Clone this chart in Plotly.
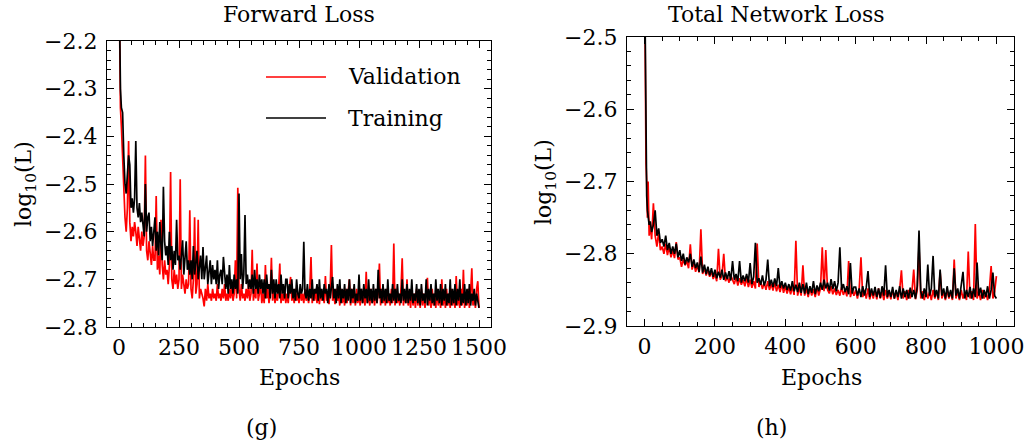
import plotly.graph_objects as go

# ---------------- data: Forward Loss (g) ----------------
epochs_g = [0, 3, 6, 10, 15, 20, 25, 30, 35, 40, 45, 50, 55, 60, 65, 70, 75, 80, 85, 90, 95] + list(range(100, 1501, 5))

val_g = [
    -2.05, -2.22, -2.34, -2.38, -2.46, -2.52, -2.57, -2.60, -2.55, -2.41, -2.58,
    -2.62, -2.59, -2.61, -2.58, -2.60, -2.63, -2.59, -2.62, -2.64, -2.60,
    -2.63, -2.61, -2.44, -2.64, -2.66, -2.62, -2.65, -2.67, -2.63, -2.66,      # 100-145
    -2.66, -2.525, -2.68, -2.65, -2.69, -2.575, -2.67, -2.70, -2.66, -2.69,    # 150-195
    -2.68, -2.71, -2.67, -2.475, -2.70, -2.72, -2.68, -2.71, -2.69, -2.72,     # 200-245
    -2.70, -2.49, -2.72, -2.69, -2.71, -2.73, -2.70, -2.72, -2.71, -2.555,     # 250-295
    -2.72, -2.74, -2.70, -2.57, -2.73, -2.71, -2.575, -2.74, -2.72, -2.73,     # 300-345
    -2.74, -2.757, -2.72, -2.745, -2.71, -2.74, -2.73, -2.745, -2.72, -2.74,   # 350-395
    -2.73, -2.745, -2.71, -2.74, -2.73, -2.745, -2.72, -2.74, -2.71, -2.745,   # 400-445
    -2.73, -2.745, -2.72, -2.74, -2.71, -2.745, -2.73, -2.66, -2.74, -2.508,   # 450-495
    -2.72, -2.745, -2.71, -2.74, -2.73, -2.745, -2.72, -2.74, -2.71, -2.745,   # 500-545
    -2.73, -2.638, -2.745, -2.72, -2.74, -2.667, -2.745, -2.73, -2.71, -2.75,  # 550-595
    -2.73, -2.75, -2.67, -2.74, -2.72, -2.75, -2.73, -2.655, -2.745, -2.72,    # 600-645
    -2.75, -2.73, -2.745, -2.72, -2.667, -2.75, -2.73, -2.745, -2.72, -2.75,   # 650-695
    -2.73, -2.75, -2.72, -2.695, -2.745, -2.73, -2.75, -2.72, -2.745, -2.73,   # 700-745
    -2.75, -2.72, -2.745, -2.73, -2.75, -2.72, -2.745, -2.73, -2.75, -2.72,    # 750-795
    -2.653, -2.75, -2.73, -2.745, -2.72, -2.75, -2.73, -2.752, -2.72, -2.745,  # 800-845
    -2.73, -2.75, -2.693, -2.745, -2.73, -2.752, -2.72, -2.628, -2.745, -2.73, # 850-895
    -2.752, -2.72, -2.745, -2.73, -2.755, -2.72, -2.75, -2.73, -2.755, -2.72,  # 900-945
    -2.75, -2.73, -2.70, -2.755, -2.72, -2.75, -2.73, -2.755, -2.72, -2.75,    # 950-995
    -2.73, -2.755, -2.72, -2.75, -2.73, -2.755, -2.684, -2.75, -2.73, -2.755,  # 1000-1045
    -2.72, -2.75, -2.73, -2.755, -2.72, -2.75, -2.73, -2.667, -2.755, -2.72,   # 1050-1095
    -2.75, -2.73, -2.755, -2.72, -2.75, -2.73, -2.755, -2.72, -2.75, -2.625,   # 1100-1145
    -2.755, -2.72, -2.75, -2.73, -2.755, -2.72, -2.656, -2.755, -2.73, -2.75,  # 1150-1195
    -2.70, -2.755, -2.73, -2.76, -2.72, -2.755, -2.73, -2.76, -2.72, -2.755,   # 1200-1245
    -2.73, -2.76, -2.72, -2.755, -2.73, -2.76, -2.72, -2.697, -2.755, -2.73,   # 1250-1295
    -2.76, -2.72, -2.755, -2.73, -2.76, -2.72, -2.755, -2.73, -2.76, -2.70,    # 1300-1345
    -2.755, -2.73, -2.76, -2.72, -2.755, -2.73, -2.76, -2.72, -2.755, -2.73,   # 1350-1395
    -2.76, -2.693, -2.755, -2.73, -2.76, -2.72, -2.755, -2.68, -2.76, -2.73,   # 1400-1445
    -2.755, -2.72, -2.76, -2.73, -2.677, -2.755, -2.73, -2.76, -2.72, -2.704,  # 1450-1495
    -2.76,                                                                     # 1500
]

train_g = [
    -2.05, -2.20, -2.30, -2.34, -2.35, -2.44, -2.50, -2.52, -2.47, -2.44, -2.46,
    -2.55, -2.53, -2.56, -2.53, -2.41, -2.55, -2.57, -2.54, -2.58, -2.56,
    -2.58, -2.61, -2.50, -2.60, -2.57, -2.56, -2.62, -2.59, -2.63, -2.60,      # 100-145
    -2.57, -2.64, -2.60, -2.65, -2.58, -2.63, -2.66, -2.506, -2.62, -2.65,     # 150-195
    -2.63, -2.67, -2.60, -2.66, -2.63, -2.68, -2.64, -2.67, -2.575, -2.66,     # 200-245
    -2.65, -2.68, -2.64, -2.618, -2.69, -2.65, -2.62, -2.68, -2.66, -2.69,     # 250-295
    -2.66, -2.70, -2.63, -2.69, -2.66, -2.64, -2.70, -2.67, -2.65, -2.70,      # 300-345
    -2.632, -2.70, -2.67, -2.65, -2.71, -2.68, -2.66, -2.71, -2.67, -2.70,     # 350-395
    -2.68, -2.71, -2.66, -2.72, -2.69, -2.68, -2.71, -2.653, -2.70, -2.72,     # 400-445
    -2.69, -2.73, -2.67, -2.72, -2.70, -2.73, -2.69, -2.72, -2.70, -2.73,      # 450-495
    -2.52, -2.70, -2.647, -2.72, -2.69, -2.565, -2.71, -2.69, -2.72, -2.70,    # 500-545
    -2.72, -2.69, -2.73, -2.68, -2.72, -2.70, -2.73, -2.69, -2.72, -2.70,      # 550-595
    -2.73, -2.70, -2.74, -2.69, -2.72, -2.71, -2.74, -2.68, -2.73, -2.70,      # 600-645
    -2.74, -2.70, -2.73, -2.71, -2.74, -2.69, -2.73, -2.71, -2.74, -2.70,      # 650-695
    -2.70, -2.74, -2.71, -2.73, -2.70, -2.74, -2.72, -2.745, -2.70, -2.73,     # 700-745
    -2.74, -2.71, -2.73, -2.72, -2.621, -2.73, -2.74, -2.71, -2.745, -2.72,    # 750-795
    -2.74, -2.70, -2.745, -2.72, -2.73, -2.71, -2.745, -2.70, -2.74, -2.72,    # 800-845
    -2.745, -2.71, -2.73, -2.72, -2.75, -2.71, -2.74, -2.72, -2.695, -2.74,    # 850-895
    -2.72, -2.75, -2.71, -2.74, -2.70, -2.75, -2.72, -2.74, -2.71, -2.75,      # 900-945
    -2.72, -2.745, -2.70, -2.75, -2.72, -2.74, -2.71, -2.75, -2.73, -2.745,    # 950-995
    -2.69, -2.745, -2.72, -2.75, -2.71, -2.74, -2.72, -2.75, -2.70, -2.745,    # 1000-1045
    -2.72, -2.75, -2.71, -2.745, -2.72, -2.75, -2.68, -2.74, -2.72, -2.75,     # 1050-1095
    -2.71, -2.745, -2.72, -2.75, -2.70, -2.745, -2.73, -2.75, -2.71, -2.745,   # 1100-1145
    -2.72, -2.75, -2.71, -2.745, -2.73, -2.75, -2.70, -2.745, -2.72, -2.75,    # 1150-1195
    -2.71, -2.75, -2.72, -2.745, -2.70, -2.75, -2.73, -2.745, -2.71, -2.75,    # 1200-1245
    -2.72, -2.755, -2.71, -2.745, -2.73, -2.75, -2.70, -2.755, -2.72, -2.745,  # 1250-1295
    -2.71, -2.75, -2.73, -2.755, -2.70, -2.745, -2.72, -2.75, -2.71, -2.755,   # 1300-1345
    -2.72, -2.745, -2.71, -2.755, -2.73, -2.75, -2.70, -2.755, -2.72, -2.75,   # 1350-1395
    -2.71, -2.755, -2.72, -2.745, -2.70, -2.755, -2.73, -2.75, -2.71, -2.755,  # 1400-1445
    -2.72, -2.75, -2.71, -2.755, -2.73, -2.745, -2.72, -2.755, -2.73, -2.745,  # 1450-1495
    -2.76,                                                                     # 1500
]

# ---------------- data: Total Network Loss (h) ----------------
epochs_h = [0, 2, 4, 6, 8, 10, 13, 16, 20, 25, 30, 35, 40, 45] + list(range(50, 1001, 5))

val_h = [
    -2.40, -2.56, -2.675, -2.70, -2.75, -2.70, -2.775, -2.76, -2.78, -2.73, -2.775, -2.79, -2.77, -2.795,
    -2.79, -2.80, -2.786, -2.802, -2.79, -2.805, -2.795, -2.806, -2.784, -2.808,       # 50-95
    -2.805, -2.818, -2.808, -2.816, -2.81, -2.82, -2.787, -2.822, -2.812, -2.825,     # 100-145
    -2.816, -2.826, -2.766, -2.828, -2.82, -2.83, -2.822, -2.832, -2.824, -2.835,     # 150-195
    -2.828, -2.838, -2.793, -2.836, -2.83, -2.80, -2.838, -2.832, -2.84, -2.83,       # 200-245
    -2.835, -2.842, -2.832, -2.844, -2.834, -2.843, -2.836, -2.845, -2.833, -2.846,   # 250-295
    -2.836, -2.847, -2.838, -2.848, -2.786, -2.846, -2.838, -2.849, -2.84, -2.85,     # 300-345
    -2.838, -2.85, -2.842, -2.851, -2.84, -2.852, -2.843, -2.853, -2.842, -2.854,     # 350-395
    -2.845, -2.855, -2.846, -2.856, -2.845, -2.857, -2.782, -2.858, -2.846, -2.858,   # 400-445
    -2.816, -2.858, -2.848, -2.86, -2.847, -2.858, -2.849, -2.86, -2.846, -2.858,     # 450-495
    -2.848, -2.791, -2.852, -2.795, -2.85, -2.855, -2.845, -2.856, -2.848, -2.857,    # 500-545
    -2.85, -2.858, -2.846, -2.857, -2.85, -2.859, -2.81, -2.86, -2.85, -2.858,        # 550-595
    -2.85, -2.862, -2.848, -2.805, -2.86, -2.85, -2.862, -2.848, -2.863, -2.852,      # 600-645
    -2.862, -2.85, -2.863, -2.848, -2.862, -2.852, -2.864, -2.85, -2.862, -2.852,     # 650-695
    -2.863, -2.85, -2.862, -2.852, -2.864, -2.85, -2.823, -2.862, -2.852, -2.864,     # 700-745
    -2.85, -2.862, -2.852, -2.822, -2.863, -2.85, -2.79, -2.862, -2.852, -2.864,      # 750-795
    -2.85, -2.862, -2.853, -2.864, -2.85, -2.862, -2.852, -2.864, -2.825, -2.862,     # 800-845
    -2.852, -2.864, -2.85, -2.862, -2.853, -2.864, -2.808, -2.862, -2.852, -2.864,    # 850-895
    -2.85, -2.862, -2.853, -2.864, -2.797, -2.862, -2.852, -2.864, -2.759, -2.862,    # 900-945
    -2.852, -2.864, -2.85, -2.862, -2.853, -2.864, -2.85, -2.817, -2.862, -2.852,     # 950-995
    -2.831,                                                                           # 1000
]

train_h = [
    -2.40, -2.55, -2.67, -2.72, -2.74, -2.75, -2.76, -2.755, -2.77, -2.76, -2.74, -2.775, -2.765, -2.785,
    -2.78, -2.79, -2.775, -2.795, -2.785, -2.80, -2.79, -2.80, -2.786, -2.805,        # 50-95
    -2.795, -2.81, -2.80, -2.815, -2.805, -2.812, -2.80, -2.818, -2.808, -2.82,       # 100-145
    -2.812, -2.825, -2.804, -2.826, -2.815, -2.828, -2.818, -2.83, -2.82, -2.832,     # 150-195
    -2.822, -2.834, -2.825, -2.833, -2.822, -2.836, -2.826, -2.835, -2.824, -2.837,   # 200-245
    -2.81, -2.836, -2.828, -2.838, -2.81, -2.84, -2.83, -2.838, -2.828, -2.84,        # 250-295
    -2.813, -2.842, -2.832, -2.785, -2.84, -2.834, -2.843, -2.83, -2.844, -2.836,     # 300-345
    -2.808, -2.845, -2.836, -2.846, -2.834, -2.845, -2.82, -2.847, -2.838, -2.848,    # 350-395
    -2.84, -2.85, -2.842, -2.851, -2.838, -2.852, -2.843, -2.853, -2.84, -2.854,      # 400-445
    -2.842, -2.855, -2.84, -2.856, -2.845, -2.854, -2.838, -2.856, -2.844, -2.852,    # 450-495
    -2.84, -2.85, -2.836, -2.848, -2.84, -2.851, -2.835, -2.849, -2.838, -2.852,      # 500-545
    -2.84, -2.791, -2.85, -2.842, -2.853, -2.845, -2.856, -2.813, -2.855, -2.846,     # 550-595
    -2.846, -2.858, -2.848, -2.86, -2.845, -2.858, -2.847, -2.824, -2.86, -2.848,     # 600-645
    -2.858, -2.846, -2.86, -2.848, -2.861, -2.845, -2.858, -2.816, -2.86, -2.85,      # 650-695
    -2.86, -2.846, -2.862, -2.85, -2.86, -2.845, -2.862, -2.848, -2.86, -2.85,        # 700-745
    -2.862, -2.847, -2.86, -2.85, -2.862, -2.845, -2.768, -2.852, -2.862, -2.848,     # 750-795
    -2.86, -2.815, -2.858, -2.848, -2.803, -2.86, -2.85, -2.862, -2.822, -2.858,      # 800-845
    -2.848, -2.862, -2.845, -2.86, -2.85, -2.862, -2.82, -2.858, -2.848, -2.862,      # 850-895
    -2.845, -2.825, -2.862, -2.85, -2.86, -2.846, -2.862, -2.848, -2.86, -2.812,      # 900-945
    -2.858, -2.847, -2.862, -2.85, -2.86, -2.845, -2.862, -2.85, -2.826, -2.858,      # 950-995
    -2.862,                                                                           # 1000
]

assert len(epochs_g) == len(val_g) == len(train_g), (len(epochs_g), len(val_g), len(train_g))
assert len(epochs_h) == len(val_h) == len(train_h), (len(epochs_h), len(val_h), len(train_h))

titles = ["Forward Loss", "Total Network Loss"]
captions = ["(g)", "(h)"]
series_names = ["Validation", "Training"]
xticks_g = [0, 250, 500, 750, 1000, 1250, 1500]
xticks_h = [0, 200, 400, 600, 800, 1000]

# ---------------- figure ----------------
W, H = 1025, 445
FONT = "DejaVu Serif"
FS = 22
RED = "#ff0000"
BLACK = "#000000"
LW = 1.7

def px(x):
    return x / W

def py(y):
    return 1 - y / H

fig = go.Figure()

fig.add_trace(go.Scatter(x=epochs_g, y=val_g, mode="lines", name=series_names[0],
                         line=dict(color=RED, width=LW), xaxis="x", yaxis="y", showlegend=False))
fig.add_trace(go.Scatter(x=epochs_g, y=train_g, mode="lines", name=series_names[1],
                         line=dict(color=BLACK, width=LW), xaxis="x", yaxis="y", showlegend=False))
fig.add_trace(go.Scatter(x=epochs_h, y=val_h, mode="lines", name=series_names[0],
                         line=dict(color=RED, width=LW), xaxis="x2", yaxis="y2", showlegend=False))
fig.add_trace(go.Scatter(x=epochs_h, y=train_h, mode="lines", name=series_names[1],
                         line=dict(color=BLACK, width=LW), xaxis="x2", yaxis="y2", showlegend=False))

axis_common = dict(
    showgrid=False, zeroline=False, showline=True, linecolor="black", linewidth=1.2,
    mirror="allticks", ticks="inside", ticklen=7, tickwidth=1, tickcolor="black",
    tickfont=dict(family=FONT, size=FS, color="black"), automargin=False, tickangle=0,
    ticklabeloverflow="allow",
)

fig.update_layout(
    width=W, height=H,
    margin=dict(l=0, r=0, t=0, b=0, autoexpand=False),
    paper_bgcolor="white", plot_bgcolor="white",
    font=dict(family=FONT, size=FS, color="black"),
    showlegend=False,
    xaxis=dict(domain=[px(107), px(491)], range=[-50, 1550], tickvals=xticks_g,
               minor=dict(dtick=50, tick0=0, ticklen=3.5, ticks="inside", tickcolor="black"),
               anchor="y", **axis_common),
    yaxis=dict(domain=[py(327), py(41)], range=[-2.8, -2.2], dtick=0.1, tick0=-2.8, tickformat=".1f",
               minor=dict(dtick=0.02, tick0=-2.8, ticklen=3.5, ticks="inside", tickcolor="black"),
               ticklabelstandoff=4, anchor="x", **axis_common),
    xaxis2=dict(domain=[px(627), px(1014)], range=[-50, 1050], tickvals=xticks_h,
                minor=dict(dtick=50, tick0=0, ticklen=3.5, ticks="inside", tickcolor="black"),
                anchor="y2", **axis_common),
    yaxis2=dict(domain=[py(326), py(37)], range=[-2.9, -2.5], dtick=0.1, tick0=-2.9, tickformat=".1f",
                minor=dict(dtick=0.02, tick0=-2.9, ticklen=3.5, ticks="inside", tickcolor="black"),
                ticklabelstandoff=4, anchor="x2", **axis_common),
)

ann = []
def text(x, y, s, size=FS, angle=0):
    ann.append(dict(x=px(x), y=py(y), xref="paper", yref="paper", text=s, showarrow=False,
                    font=dict(family=FONT, size=size, color="black"), textangle=angle,
                    xanchor="center", yanchor="middle"))

text(299, 15, titles[0])
text(776, 15, titles[1])
text(299, 377, "Epochs")
text(821, 377, "Epochs")
text(261, 427, captions[0])
text(771, 427, captions[1])
text(25, 184, "log<sub>10</sub>(L)", angle=-90)
text(545, 182, "log<sub>10</sub>(L)", angle=-90)

# legend (inside Forward Loss panel)
ann.append(dict(x=px(346), y=py(77), xref="paper", yref="paper", text=series_names[0], showarrow=False,
                font=dict(family=FONT, size=FS, color="black"), xanchor="left", yanchor="middle"))
ann.append(dict(x=px(346), y=py(118), xref="paper", yref="paper", text=series_names[1], showarrow=False,
                font=dict(family=FONT, size=FS, color="black"), xanchor="left", yanchor="middle"))
fig.update_layout(annotations=ann)

fig.add_shape(type="line", xref="paper", yref="paper", x0=px(266), x1=px(326), y0=py(77), y1=py(77),
              line=dict(color=RED, width=1.5))
fig.add_shape(type="line", xref="paper", yref="paper", x0=px(266), x1=px(326), y0=py(118), y1=py(118),
              line=dict(color=BLACK, width=1.5))

fig.write_html("out.html", config={"displayModeBar": False},
               post_script="document.body.style.margin='0px';document.body.style.overflow='hidden';")
